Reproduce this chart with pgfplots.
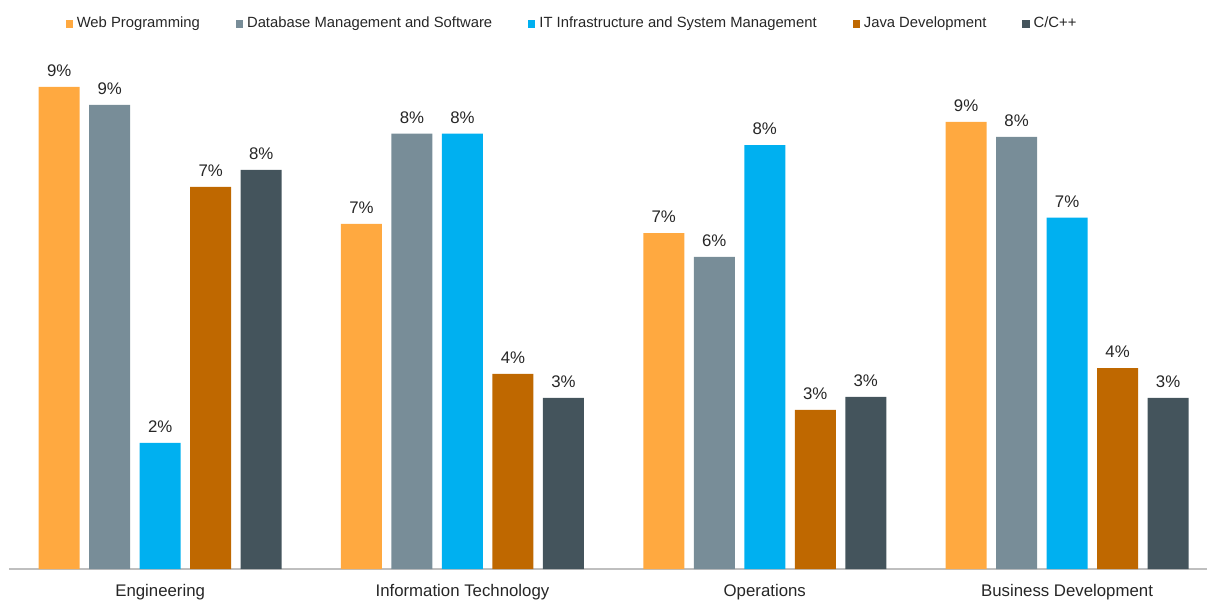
\documentclass[border=0pt]{standalone}
\usepackage{fontspec}
\setmainfont{Liberation Sans}
\usepackage{pgfplots}
\pgfplotsset{compat=1.18}

\definecolor{cweb}{RGB}{255,169,64}
\definecolor{cdb}{RGB}{120,141,152}
\definecolor{cit}{RGB}{0,176,240}
\definecolor{cjava}{RGB}{191,104,0}
\definecolor{ccpp}{RGB}{68,84,92}
\definecolor{txt}{RGB}{38,38,38}
\definecolor{axisgray}{RGB}{191,191,191}

\begin{document}
\begin{tikzpicture}
\begin{axis}[
    scale only axis,
    width=599pt, height=264.5pt,
    xmin=-0.5, xmax=3.463,
    ymin=0, ymax=10.27,
    ybar=4.75pt, bar width=20.5pt,
    axis x line*=bottom,
    axis y line=none,
    x axis line style={axisgray, line width=0.8pt, -},
    xtick={0,1,2,3},
    xticklabels={Engineering, Information Technology, Operations, Business Development},
    major tick length=0pt,
    xticklabel style={font=\fontsize{8.4}{10}\selectfont, text=txt, yshift=-4pt},
    /pgf/number format/assume math mode=true,
    nodes near coords={\pgfmathprintnumber[fixed,precision=0]{\pgfplotspointmeta}\%},
    every node near coord/.append style={font=\fontsize{8.4}{10}\selectfont, text=txt, yshift=1.5pt},
    legend columns=5,
    legend style={
        at={(0.5,1)}, anchor=center, yshift=8pt, xshift=-17.5pt,
        draw=none, fill=none,
        font=\fontsize{7.4}{9}\selectfont, text=txt,
        /tikz/every even column/.style={column sep=16pt},
    },
    legend image code/.code={\fill[#1] (0pt,-1.8pt) rectangle (3.6pt,1.8pt);},
]
\addplot[fill=cweb, draw=none] coordinates {(0,9.36) (1,6.70) (2,6.52) (3,8.68)};
\addlegendentry{Web Programming}
\addplot[fill=cdb, draw=none] coordinates {(0,9.01) (1,8.45) (2,6.06) (3,8.39)};
\addlegendentry{Database Management and Software}
\addplot[fill=cit, draw=none] coordinates {(0,2.45) (1,8.45) (2,8.23) (3,6.82)};
\addlegendentry{IT Infrastructure and System Management}
\addplot[fill=cjava, draw=none] coordinates {(0,7.42) (1,3.79) (2,3.09) (3,3.90)};
\addlegendentry{Java Development}
\addplot[fill=ccpp, draw=none] coordinates {(0,7.75) (1,3.32) (2,3.34) (3,3.32)};
\addlegendentry{C/C++}
\end{axis}
\pgfresetboundingbox
\path ([xshift=-4.5pt,yshift=-15pt]current axis.south west) rectangle ([yshift=20pt]current axis.north east);
\end{tikzpicture}
\end{document}
